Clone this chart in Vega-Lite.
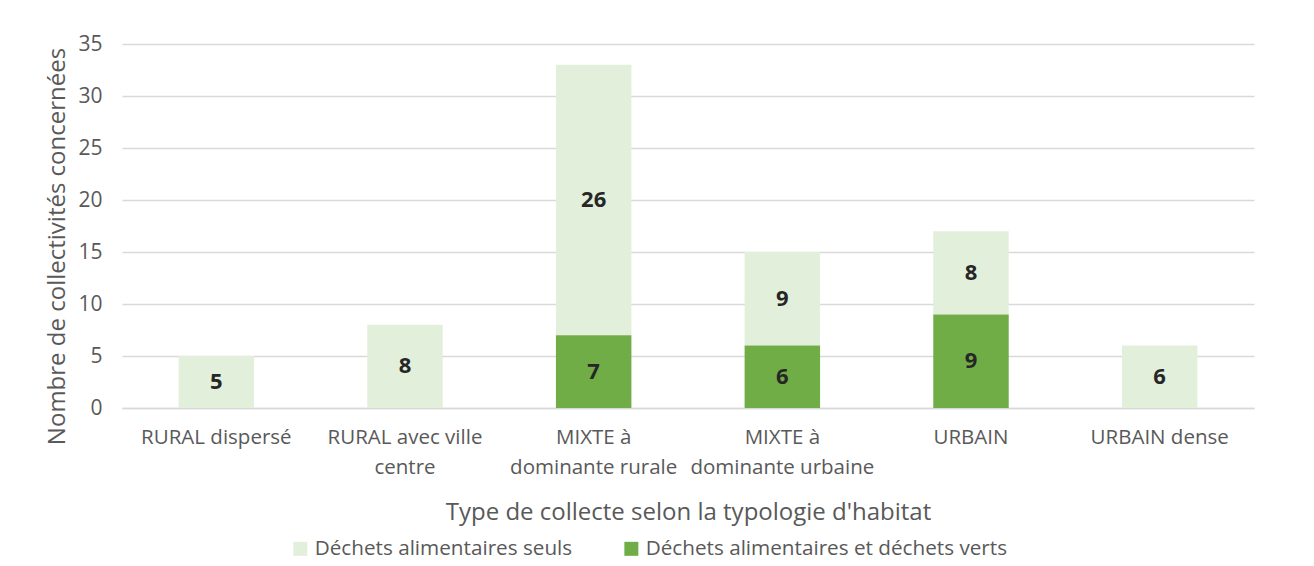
{
  "$schema": "https://vega.github.io/schema/vega-lite/v6.json",
  "width": 1132,
  "height": 364,
  "autosize": {"type": "none"},
  "padding": {"left": 122, "top": 44, "right": 60, "bottom": 158},
  "background": "white",
  "config": {
    "font": "Open Sans",
    "view": {"stroke": null}
  },
  "data": {
    "values": [
      {"cat": "RURAL dispersé", "serie": "Déchets alimentaires seuls", "value": 5},
      {"cat": "RURAL avec ville centre", "serie": "Déchets alimentaires seuls", "value": 8},
      {"cat": "MIXTE à dominante rurale", "serie": "Déchets alimentaires seuls", "value": 26},
      {"cat": "MIXTE à dominante rurale", "serie": "Déchets alimentaires et déchets verts", "value": 7},
      {"cat": "MIXTE à dominante urbaine", "serie": "Déchets alimentaires seuls", "value": 9},
      {"cat": "MIXTE à dominante urbaine", "serie": "Déchets alimentaires et déchets verts", "value": 6},
      {"cat": "URBAIN", "serie": "Déchets alimentaires seuls", "value": 8},
      {"cat": "URBAIN", "serie": "Déchets alimentaires et déchets verts", "value": 9},
      {"cat": "URBAIN dense", "serie": "Déchets alimentaires seuls", "value": 6}
    ]
  },
  "transform": [
    {"stack": "value", "groupby": ["cat"], "sort": [{"field": "serie", "order": "ascending"}], "as": ["v0", "v1"]}
  ],
  "encoding": {
    "x": {
      "field": "cat",
      "type": "nominal",
      "sort": ["RURAL dispersé", "RURAL avec ville centre", "MIXTE à dominante rurale", "MIXTE à dominante urbaine", "URBAIN", "URBAIN dense"],
      "scale": {"paddingInner": 0.6, "paddingOuter": 0.3},
      "axis": {
        "title": "Type de collecte selon la typologie d'habitat",
        "titleFontSize": 24,
        "titleFontWeight": "normal",
        "titleColor": "#595959",
        "titlePadding": 23,
        "labelAngle": 0,
        "labelFontSize": 20.5,
        "labelColor": "#595959",
        "labelPadding": 19,
        "labelLineHeight": 30,
        "labelLimit": 0,
        "labelExpr": "datum.value == 'RURAL avec ville centre' ? ['RURAL avec ville', 'centre'] : datum.value == 'MIXTE à dominante rurale' ? ['MIXTE à', 'dominante rurale'] : datum.value == 'MIXTE à dominante urbaine' ? ['MIXTE à', 'dominante urbaine'] : datum.value",
        "ticks": false,
        "domainColor": "#D9D9D9",
        "domainWidth": 1.5
      }
    }
  },
  "layer": [
    {
      "mark": {"type": "bar"},
      "encoding": {
        "y": {
          "field": "v0",
          "type": "quantitative",
          "scale": {"domain": [0, 35]},
          "axis": {
            "title": "Nombre de collectivités concernées",
            "titleFontSize": 24,
            "titleFontWeight": "normal",
            "titleColor": "#595959",
            "titlePadding": 8,
            "titleY": 202,
            "values": [0, 5, 10, 15, 20, 25, 30, 35],
            "labelFontSize": 21,
            "labelColor": "#595959",
            "labelPadding": 20,
            "ticks": false,
            "domain": false,
            "gridColor": "#D9D9D9",
            "gridWidth": 1.5
          }
        },
        "y2": {"field": "v1"},
        "color": {
          "field": "serie",
          "type": "nominal",
          "scale": {
            "domain": ["Déchets alimentaires seuls", "Déchets alimentaires et déchets verts"],
            "range": ["#E2EFDA", "#70AD47"]
          },
          "legend": {
            "title": null,
            "orient": "none",
            "legendX": 168,
            "legendY": 494,
            "direction": "horizontal",
            "labelFontSize": 20.7,
            "labelColor": "#595959",
            "labelLimit": 0,
            "labelOffset": 4,
            "symbolType": "square",
            "symbolSize": 196,
            "symbolStrokeWidth": 0,
            "columnPadding": 48
          }
        }
      }
    },
    {
      "transform": [
        {"fold": ["v0", "v1"], "as": ["k", "bound"]}
      ],
      "mark": {"type": "text", "fontSize": 22, "fontWeight": "bold", "color": "#262626", "baseline": "middle"},
      "encoding": {
        "y": {"aggregate": "mean", "field": "bound", "type": "quantitative"},
        "text": {"field": "value", "type": "quantitative"},
        "detail": {"field": "serie"}
      }
    }
  ]
}
